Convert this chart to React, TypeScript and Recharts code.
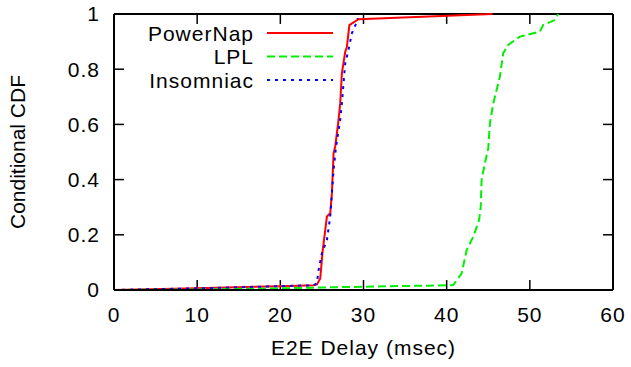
import { Label, Line, LineChart, ReferenceLine, XAxis, YAxis } from 'recharts';

const xTicks = [0, 10, 20, 30, 40, 50, 60];
const yTicks = [0, 0.2, 0.4, 0.6, 0.8, 1];

const powerNapDelay = [0, 10, 20, 24.0, 24.4, 24.8, 25.1, 25.4, 25.6, 26.0, 26.2, 26.4, 26.6, 27.0, 27.2, 27.4, 27.8, 28.0, 28.3, 29.4, 45.5];
const powerNapCdf = [0, 0.006, 0.014, 0.017, 0.02, 0.042, 0.145, 0.217, 0.266, 0.278, 0.35, 0.495, 0.52, 0.616, 0.676, 0.785, 0.863, 0.88, 0.96, 0.981, 1.0];

const lplDelay = [0, 10, 20, 30, 40.0, 40.8, 41.8, 42.4, 43.2, 43.9, 44.1, 44.2, 44.6, 45.0, 45.2, 45.6, 46.4, 46.8, 47.4, 48.8, 51.2, 51.6, 53.0, 53.4];
const lplCdf = [0, 0.002, 0.006, 0.012, 0.017, 0.018, 0.06, 0.145, 0.193, 0.254, 0.302, 0.399, 0.459, 0.514, 0.604, 0.676, 0.773, 0.858, 0.888, 0.918, 0.936, 0.96, 0.978, 1.0];

const insomniacDelay = [0, 10, 20, 24.0, 24.4, 24.6, 25.0, 25.6, 26.0, 26.4, 26.7, 27.2, 27.4, 27.8, 28.2, 28.6, 29.2, 29.3];
const insomniacCdf = [0, 0.006, 0.014, 0.017, 0.024, 0.072, 0.133, 0.181, 0.266, 0.435, 0.52, 0.616, 0.676, 0.821, 0.87, 0.93, 0.972, 0.985];

const toPoints = (xs: number[], ys: number[]) => xs.map((x, i) => ({ x, y: ys[i] }));

const series = [
  { name: 'PowerNap', data: toPoints(powerNapDelay, powerNapCdf), color: '#ff0000', dash: undefined },
  { name: 'LPL', data: toPoints(lplDelay, lplCdf), color: '#00ee00', dash: '8 4' },
  { name: 'Insomniac', data: toPoints(insomniacDelay, insomniacCdf), color: '#0000ff', dash: '3 5' },
];

const FONT = '"Liberation Sans", Arial, sans-serif';

// legend drawn on top of the plot, gnuplot style (text right-aligned, sample to the right)
function LegendBox() {
  return (
    <svg
      width={220}
      height={80}
      style={{ position: 'absolute', left: 130, top: 20, fontFamily: FONT, pointerEvents: 'none' }}
    >
      {series.map((s, i) => (
        <g key={s.name}>
          <text
            x={124}
            y={13 + i * 23.5}
            textAnchor="end"
            dominantBaseline="central"
            fontSize={21}
            letterSpacing={1}
            fill="#000"
          >
            {s.name}
          </text>
          <line x1={137} x2={203} y1={13 + i * 23.5} y2={13 + i * 23.5} stroke={s.color} strokeWidth={2} strokeDasharray={s.dash} />
        </g>
      ))}
    </svg>
  );
}

export default function App() {
  const tick = { fill: '#000', fontSize: 21, fontFamily: FONT, letterSpacing: 1 };
  return (
    <div style={{ position: 'absolute', left: 0, top: 0, width: 631, height: 367, background: '#fff' }}>
      <LineChart width={631} height={367} margin={{ top: 14, right: 18, bottom: 0, left: 0 }} style={{ fontFamily: FONT }}>
        <XAxis
          type="number"
          dataKey="x"
          domain={[0, 60]}
          ticks={xTicks}
          tick={tick}
          tickLine={false}
          tickSize={0}
          tickMargin={17}
          height={77}
          axisLine={{ stroke: '#000', strokeWidth: 2 }}
          allowDuplicatedCategory={false}
        >
          <Label
            value="E2E Delay (msec)"
            position="insideBottom"
            offset={12}
            fill="#000"
            fontSize={21}
            style={{ letterSpacing: 1 }}
          />
        </XAxis>
        <YAxis
          type="number"
          dataKey="y"
          domain={[0, 1]}
          ticks={yTicks}
          tick={tick}
          tickLine={false}
          tickSize={0}
          tickMargin={14}
          width={114}
          axisLine={{ stroke: '#000', strokeWidth: 2 }}
        >
          <Label value="Conditional CDF" angle={-90} position="insideLeft" offset={18} fill="#000" fontSize={21} style={{ textAnchor: 'middle' }} />
        </YAxis>
        <ReferenceLine y={1} stroke="#000" strokeWidth={2} />
        <ReferenceLine x={60} stroke="#000" strokeWidth={2} />
        {xTicks.map((t) => (
          <ReferenceLine key={`xb${t}`} segment={[{ x: t, y: 0 }, { x: t, y: 0.036 }]} stroke="#000" strokeWidth={1.5} />
        ))}
        {xTicks.map((t) => (
          <ReferenceLine key={`xt${t}`} segment={[{ x: t, y: 1 }, { x: t, y: 0.964 }]} stroke="#000" strokeWidth={1.5} />
        ))}
        {yTicks.map((t) => (
          <ReferenceLine key={`yl${t}`} segment={[{ x: 0, y: t }, { x: 1.2, y: t }]} stroke="#000" strokeWidth={1.5} />
        ))}
        {yTicks.map((t) => (
          <ReferenceLine key={`yr${t}`} segment={[{ x: 60, y: t }, { x: 58.8, y: t }]} stroke="#000" strokeWidth={1.5} />
        ))}
        {series.map((s) => (
          <Line
            key={s.name}
            data={s.data}
            dataKey="y"
            name={s.name}
            type="linear"
            stroke={s.color}
            strokeWidth={2}
            strokeDasharray={s.dash}
            dot={false}
            activeDot={false}
            isAnimationActive={false}
          />
        ))}
      </LineChart>
      <LegendBox />
    </div>
  );
}
